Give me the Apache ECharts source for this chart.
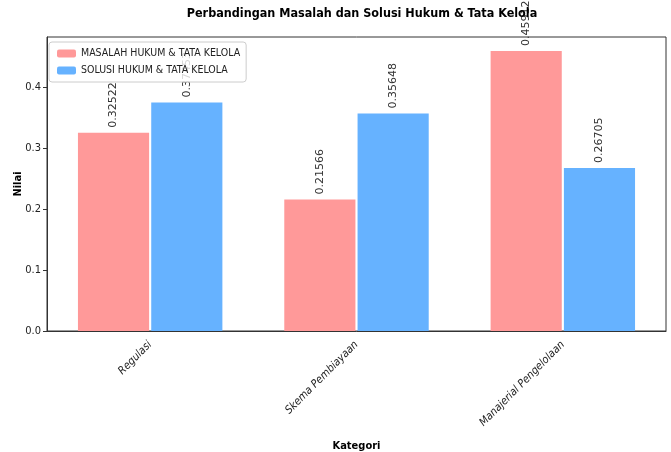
<!DOCTYPE html>
<html><head><meta charset="utf-8">
<script src="https://cdn.jsdelivr.net/npm/echarts@6/dist/echarts.min.js"></script>
<style>html,body{margin:0;padding:0;background:#fff}#c{width:671px;height:452px}</style>
</head><body><div id="c"></div>
<script>
const categories = ['Regulasi', 'Skema Pembiayaan', 'Manajerial Pengelolaan'];
const masalah = [0.32522, 0.21566, 0.45912];
const solusi = [0.37453, 0.35648, 0.26705];
const seriesNames = ['MASALAH HUKUM & TATA KELOLA', 'SOLUSI HUKUM & TATA KELOLA'];
const yTicks = [0, 0.1, 0.2, 0.3, 0.4];

const F = '"DejaVu Sans Condensed", "DejaVu Sans", sans-serif';
const chart = echarts.init(document.getElementById('c'));
const lbl = {
  show: true, position: 'top', rotate: 90, align: 'left', verticalAlign: 'middle',
  distance: 5, fontFamily: '"DejaVu Sans", sans-serif', fontSize: 11, color: '#333',
  formatter: p => String(p.value)
};
chart.setOption({
  animation: false,
  title: { text: 'Perbandingan Masalah dan Solusi Hukum & Tata Kelola', left: 357, textAlign: 'center', top: 2,
    textStyle: { fontFamily: F, fontWeight: 'bold', fontSize: 12.5, color: '#000' } },
  legend: { left: 49, top: 42, orient: 'vertical', itemWidth: 19, itemHeight: 8, itemGap: 6,
    padding: [6, 6, 6, 8], borderColor: '#cccccc', borderWidth: 1, borderRadius: 3, backgroundColor: 'rgba(255,255,255,0.8)',
    textStyle: { fontFamily: F, fontSize: 10.5, color: '#222' }, data: seriesNames },
  grid: { left: 47, right: 5, top: 37, bottom: 121, outerBoundsMode: 'none', containLabel: false,
    show: true, borderColor: '#333', borderWidth: 1 },
  xAxis: { type: 'category', data: categories, name: 'Kategori', nameLocation: 'middle', nameGap: 110,
    nameMoveOverlap: false,
    nameTextStyle: { fontFamily: F, fontWeight: 'bold', fontSize: 11, color: '#000' },
    axisLine: { lineStyle: { color: '#333' } },
    axisTick: { alignWithLabel: true, length: 4, lineStyle: { color: '#333' } },
    axisLabel: { rotate: 45, fontFamily: F, fontStyle: 'italic', fontSize: 11, color: '#222', margin: 12 } },
  yAxis: { type: 'value', min: 0, max: 0.482, interval: 0.1, name: 'Nilai', nameLocation: 'middle', nameGap: 23,
    nameMoveOverlap: false,
    nameTextStyle: { fontFamily: F, fontWeight: 'bold', fontSize: 11, color: '#000' },
    splitLine: { show: false },
    axisLine: { show: true, lineStyle: { color: '#333' } },
    axisTick: { show: true, length: 4, lineStyle: { color: '#333' } },
    axisLabel: { fontFamily: F, fontSize: 11, color: '#222', margin: 6, showMaxLabel: false,
      formatter: v => yTicks.some(t => Math.abs(t - v) < 1e-9) ? v.toFixed(1) : '' } },
  series: [
    { name: seriesNames[0], type: 'bar', data: masalah, barGap: '3%', barCategoryGap: '30%',
      itemStyle: { color: '#FF9999' }, label: lbl, z: 2 },
    { name: seriesNames[1], type: 'bar', data: solusi,
      itemStyle: { color: '#66B2FF' }, label: lbl, z: 2 }
  ]
});
</script></body></html>
